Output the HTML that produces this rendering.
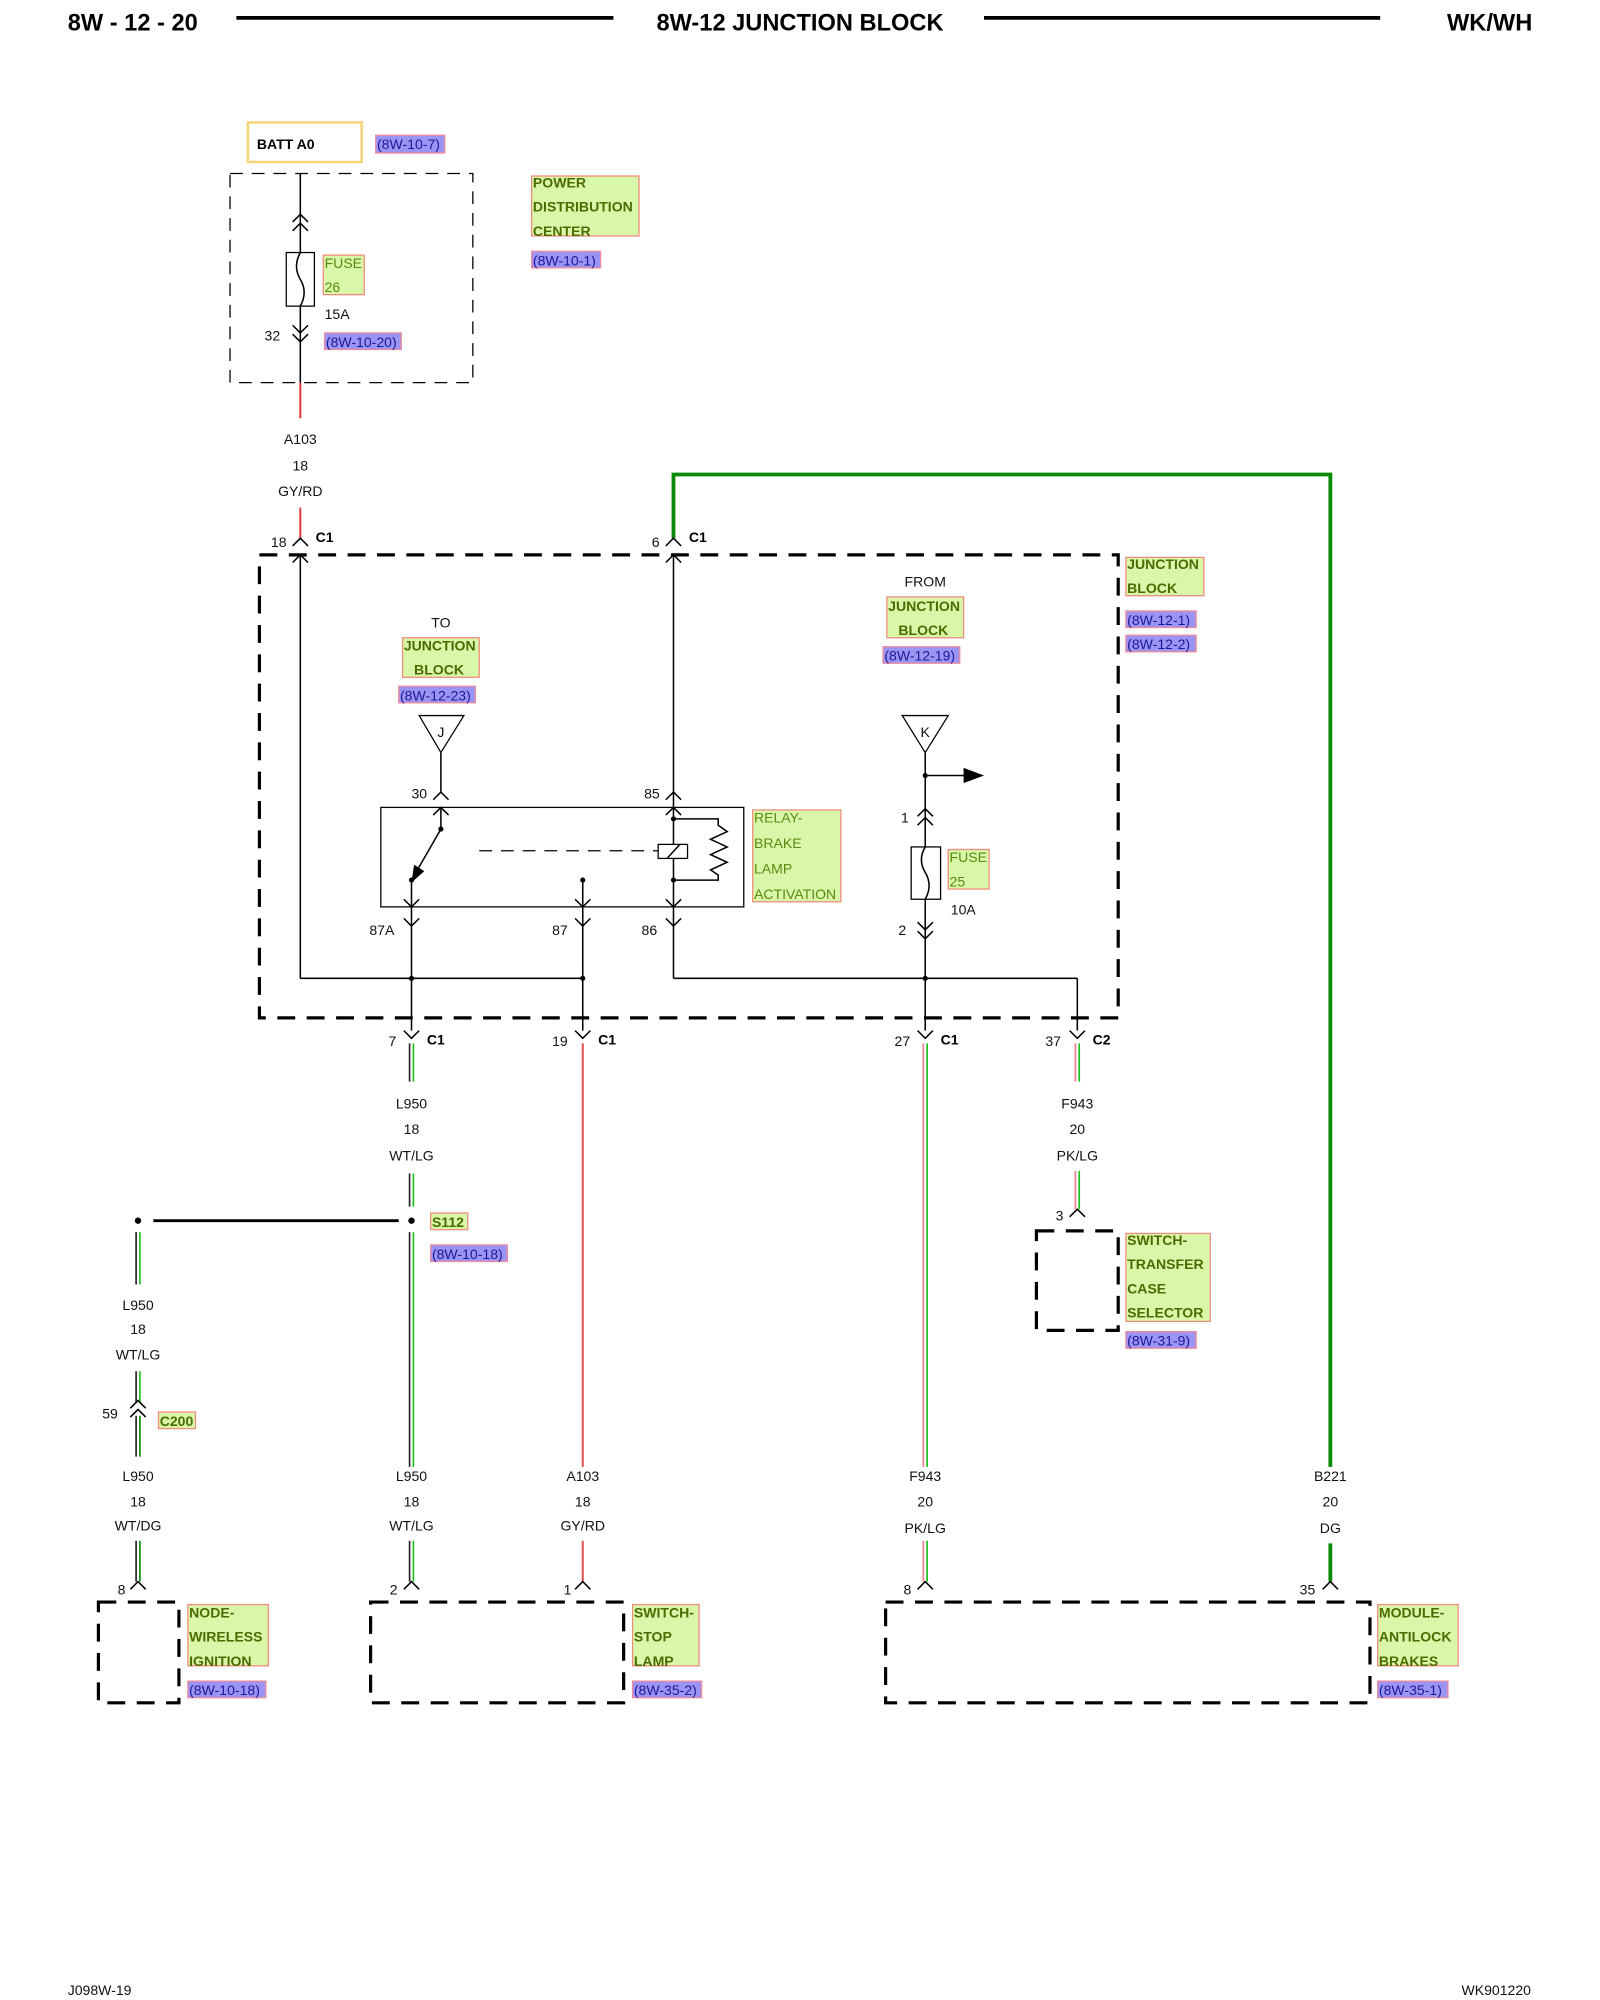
<!DOCTYPE html>
<html><head><meta charset="utf-8">
<style>
html,body{margin:0;padding:0;background:#fff;}
svg{display:block;}
text{font-family:"Liberation Sans",Arial,sans-serif;}
.t{font-size:11px;fill:#111;}
.g{font-size:11px;fill:#4d6b00;font-weight:bold;}
.gl{font-size:11px;fill:#5a8a10;}
.p{font-size:11px;fill:#1a1a9a;}
.gb{fill:#d8f7a8;stroke:#f08c7c;stroke-width:1;}
.pb{fill:#9b94f2;stroke:#f08c9c;stroke-width:1;}
.w{stroke:#000;stroke-width:1.2;fill:none;}
.d{stroke:#000;stroke-width:1;fill:none;stroke-dasharray:10,7;}
.D{stroke:#000;stroke-width:2.5;fill:none;stroke-dasharray:14,9;}
</style></head>
<body>
<svg width="1600" height="2000" viewBox="0 0 1252 1568" preserveAspectRatio="none" xmlns="http://www.w3.org/2000/svg">
<text x="53" y="24" font-size="18.5" font-weight="bold">8W - 12 - 20</text>
<line x1="185" y1="14" x2="480" y2="14" stroke="#000" stroke-width="3"/>
<text x="626" y="24" font-size="18.5" font-weight="bold" text-anchor="middle">8W-12 JUNCTION BLOCK</text>
<line x1="770" y1="14" x2="1080" y2="14" stroke="#000" stroke-width="3"/>
<text x="1199" y="24" font-size="18.5" font-weight="bold" text-anchor="end">WK/WH</text>

<rect x="194" y="96" width="89" height="31" fill="#fff" stroke="#f5d57a" stroke-width="2"/>
<text x="201" y="117" font-size="11" font-weight="bold">BATT A0</text>
<rect class="pb" x="294" y="106" width="54" height="14"/><text class="p" x="295" y="117">(8W-10-7)</text>

<rect class="d" x="180" y="136" width="190" height="164"/>
<line class="w" x1="235" y1="136" x2="235" y2="300"/>
<polyline class="w" points="229,174 235,168 241,174"/><polyline class="w" points="229,181 235,175 241,181"/>
<rect x="224" y="198" width="22" height="42" fill="#fff" stroke="#000" stroke-width="1"/>
<path d="M235,198 Q229,209 235,219 Q241,229 235,240" class="w"/>
<polyline class="w" points="229,255 235,261 241,255"/><polyline class="w" points="229,262 235,268 241,262"/>
<rect class="gb" x="253" y="200" width="32" height="31"/><text class="gl" x="254" y="210">FUSE</text><text class="gl" x="254" y="229">26</text>
<text class="t" x="254" y="250">15A</text>
<text class="t" x="207" y="267">32</text>
<rect class="pb" x="254" y="261" width="60" height="13"/><text class="p" x="255" y="272">(8W-10-20)</text>
<line x1="235" y1="300" x2="235" y2="328" stroke="#e03030" stroke-width="1.5"/>
<rect class="gb" x="416" y="138" width="84" height="47"/>
<text class="g" x="417" y="147">POWER</text><text class="g" x="417" y="166">DISTRIBUTION</text><text class="g" x="417" y="185">CENTER</text>
<rect class="pb" x="416" y="197" width="54" height="13"/><text class="p" x="417" y="208">(8W-10-1)</text>

<text class="t" x="235" y="348" text-anchor="middle">A103</text>
<text class="t" x="235" y="369" text-anchor="middle">18</text>
<text class="t" x="235" y="389" text-anchor="middle">GY/RD</text>
<line x1="235" y1="398" x2="235" y2="422" stroke="#e03030" stroke-width="1.5"/>
<polyline class="w" points="229,428 235,422 241,428"/>
<text class="t" x="212" y="429">18</text><text x="247" y="425" font-size="11" font-weight="bold">C1</text>

<polyline points="527,422 527,372 1041,372 1041,1150" fill="none" stroke="#0a8a0a" stroke-width="3"/>
<line x1="1041" y1="1210" x2="1041" y2="1240" stroke="#0a8a0a" stroke-width="3"/>
<polyline class="w" points="521,428 527,422 533,428"/>
<text class="t" x="510" y="429">6</text><text x="539" y="425" font-size="11" font-weight="bold">C1</text>

<rect class="D" x="203" y="435" width="672" height="363"/>
<rect class="gb" x="881" y="437" width="61" height="30"/><text class="g" x="882" y="446">JUNCTION</text><text class="g" x="882" y="465">BLOCK</text>
<rect class="pb" x="881" y="479" width="55" height="13"/><text class="p" x="882" y="490">(8W-12-1)</text>
<rect class="pb" x="881" y="498" width="55" height="13"/><text class="p" x="882" y="509">(8W-12-2)</text>

<line class="w" x1="235" y1="435" x2="235" y2="767"/>
<polyline class="w" points="229,441 235,435 241,441"/>
<line class="w" x1="235" y1="767" x2="456" y2="767"/>
<line class="w" x1="527" y1="767" x2="843" y2="767"/>
<line class="w" x1="527" y1="435" x2="527" y2="633"/>
<polyline class="w" points="521,441 527,435 533,441"/>

<text class="t" x="345" y="492" text-anchor="middle">TO</text>
<rect class="gb" x="315" y="500" width="60" height="31"/><text class="g" x="316" y="510">JUNCTION</text><text class="g" x="324" y="529">BLOCK</text>
<rect class="pb" x="312" y="538" width="60" height="13"/><text class="p" x="313" y="549">(8W-12-23)</text>
<polygon points="328,561 363,561 345,590" fill="#fff" stroke="#000" stroke-width="1"/>
<text class="t" x="345" y="578" text-anchor="middle">J</text>
<line class="w" x1="345" y1="590" x2="345" y2="621"/>
<polyline class="w" points="339,627 345,621 351,627"/>
<text class="t" x="322" y="626">30</text>
<polyline class="w" points="521,627 527,621 533,627"/>
<text class="t" x="504" y="626">85</text>

<text class="t" x="724" y="460" text-anchor="middle">FROM</text>
<rect class="gb" x="694" y="468" width="60" height="32"/><text class="g" x="695" y="479">JUNCTION</text><text class="g" x="703" y="498">BLOCK</text>
<rect class="pb" x="691" y="507" width="60" height="13"/><text class="p" x="692" y="518">(8W-12-19)</text>
<polygon points="706,561 742,561 724,590" fill="#fff" stroke="#000" stroke-width="1"/>
<text class="t" x="724" y="578" text-anchor="middle">K</text>
<line class="w" x1="724" y1="590" x2="724" y2="767"/>
<circle cx="724" cy="608" r="2"/>
<line class="w" x1="724" y1="608" x2="755" y2="608"/>
<polygon points="754,602 770,608 754,614"/>
<polyline class="w" points="718,640 724,634 730,640"/><polyline class="w" points="718,647 724,641 730,647"/>
<text class="t" x="705" y="645">1</text>
<rect x="713" y="664" width="23" height="41" fill="#fff" stroke="#000" stroke-width="1"/>
<path d="M724,664 Q718,674 724,684 Q730,694 724,705" class="w"/>
<rect class="gb" x="742" y="666" width="32" height="31"/><text class="gl" x="743" y="676">FUSE</text><text class="gl" x="743" y="695">25</text>
<text class="t" x="744" y="717">10A</text>
<polyline class="w" points="718,723 724,729 730,723"/><polyline class="w" points="718,730 724,736 730,730"/>
<text class="t" x="703" y="733">2</text>

<rect x="298" y="633" width="284" height="78" fill="none" stroke="#000" stroke-width="1"/>
<rect class="gb" x="589" y="635" width="69" height="72"/>
<text class="gl" x="590" y="645">RELAY-</text><text class="gl" x="590" y="665">BRAKE</text><text class="gl" x="590" y="685">LAMP</text><text class="gl" x="590" y="705">ACTIVATION</text>
<line class="w" x1="345" y1="633" x2="345" y2="650"/>
<polyline class="w" points="339,639 345,633 351,639"/>
<circle cx="345" cy="650" r="2"/>
<line class="w" x1="345" y1="650" x2="322" y2="690"/>
<polygon points="324,678 332,683 322,692"/>
<circle cx="322" cy="690" r="2"/>
<line class="w" x1="322" y1="690" x2="322" y2="808"/>
<polyline class="w" points="316,705 322,711 328,705"/>
<line class="d" x1="375" y1="667" x2="515" y2="667"/>
<rect x="515" y="662" width="23" height="11" fill="#fff" stroke="#000" stroke-width="1"/>
<line class="w" x1="522" y1="673" x2="532" y2="662"/>
<line class="w" x1="527" y1="633" x2="527" y2="662"/><line class="w" x1="527" y1="673" x2="527" y2="767"/>
<polyline class="w" points="521,639 527,633 533,639"/>
<polyline class="w" points="521,705 527,711 533,705"/>
<circle cx="527" cy="642" r="2"/><circle cx="527" cy="690" r="2"/>
<polyline class="w" points="527,642 562,642 562,647 569,652 556,658 569,664 556,670 569,676 556,682 562,686 562,690 527,690"/>
<circle cx="456" cy="690" r="2"/>
<line class="w" x1="456" y1="690" x2="456" y2="808"/>
<polyline class="w" points="450,705 456,711 462,705"/>
<polyline class="w" points="316,720 322,726 328,720"/><text class="t" x="289" y="733">87A</text>
<polyline class="w" points="450,720 456,726 462,720"/><text class="t" x="432" y="733">87</text>
<polyline class="w" points="521,720 527,726 533,720"/><text class="t" x="502" y="733">86</text>
<circle cx="322" cy="767" r="2"/><circle cx="456" cy="767" r="2"/><circle cx="724" cy="767" r="2"/>
<line class="w" x1="843" y1="767" x2="843" y2="808"/>
<line class="w" x1="724" y1="767" x2="724" y2="808"/>

<polyline class="w" points="316,808 322,814 328,808"/><text class="t" x="304" y="820">7</text><text x="334" y="819" font-size="11" font-weight="bold">C1</text>
<polyline class="w" points="450,808 456,814 462,808"/><text class="t" x="432" y="820">19</text><text x="468" y="819" font-size="11" font-weight="bold">C1</text>
<polyline class="w" points="718,808 724,814 730,808"/><text class="t" x="700" y="820">27</text><text x="736" y="819" font-size="11" font-weight="bold">C1</text>
<polyline class="w" points="837,808 843,814 849,808"/><text class="t" x="818" y="820">37</text><text x="855" y="819" font-size="11" font-weight="bold">C2</text>

<g stroke-width="1.3">
<line x1="320.5" y1="818" x2="320.5" y2="848" stroke="#222"/><line x1="323.5" y1="818" x2="323.5" y2="848" stroke="#1ec01e"/>
<line x1="320.5" y1="920" x2="320.5" y2="946" stroke="#222"/><line x1="323.5" y1="920" x2="323.5" y2="946" stroke="#1ec01e"/>
<line x1="320.5" y1="966" x2="320.5" y2="1150" stroke="#222"/><line x1="323.5" y1="966" x2="323.5" y2="1150" stroke="#1ec01e"/>
<line x1="320.5" y1="1208" x2="320.5" y2="1240" stroke="#222"/><line x1="323.5" y1="1208" x2="323.5" y2="1240" stroke="#1ec01e"/>
<line x1="106.5" y1="966" x2="106.5" y2="1007" stroke="#222"/><line x1="109.5" y1="966" x2="109.5" y2="1007" stroke="#1ec01e"/>
<line x1="106.5" y1="1075" x2="106.5" y2="1100" stroke="#222"/><line x1="109.5" y1="1075" x2="109.5" y2="1100" stroke="#1ec01e"/>
<line x1="106.5" y1="1110" x2="106.5" y2="1142" stroke="#222"/><line x1="109.5" y1="1110" x2="109.5" y2="1142" stroke="#0a8a0a"/>
<line x1="106.5" y1="1208" x2="106.5" y2="1240" stroke="#222"/><line x1="109.5" y1="1208" x2="109.5" y2="1240" stroke="#0a8a0a"/>
<line x1="722.5" y1="818" x2="722.5" y2="1150" stroke="#f07c8c"/><line x1="725.5" y1="818" x2="725.5" y2="1150" stroke="#1ec01e"/>
<line x1="722.5" y1="1208" x2="722.5" y2="1240" stroke="#f07c8c"/><line x1="725.5" y1="1208" x2="725.5" y2="1240" stroke="#1ec01e"/>
<line x1="841.5" y1="818" x2="841.5" y2="848" stroke="#f07c8c"/><line x1="844.5" y1="818" x2="844.5" y2="848" stroke="#1ec01e"/>
<line x1="841.5" y1="918" x2="841.5" y2="948" stroke="#f07c8c"/><line x1="844.5" y1="918" x2="844.5" y2="948" stroke="#1ec01e"/>
</g>
<line x1="456" y1="818" x2="456" y2="1150" stroke="#e05050" stroke-width="1.6"/>
<line x1="456" y1="1208" x2="456" y2="1240" stroke="#e05050" stroke-width="1.6"/>

<text class="t" x="322" y="869" text-anchor="middle">L950</text>
<text class="t" x="322" y="889" text-anchor="middle">18</text>
<text class="t" x="322" y="910" text-anchor="middle">WT/LG</text>
<text class="t" x="843" y="869" text-anchor="middle">F943</text>
<text class="t" x="843" y="889" text-anchor="middle">20</text>
<text class="t" x="843" y="910" text-anchor="middle">PK/LG</text>

<line x1="120" y1="957" x2="312" y2="957" stroke="#000" stroke-width="2.2"/>
<circle cx="108" cy="957" r="2.5"/><circle cx="322" cy="957" r="2.5"/>
<rect class="gb" x="337" y="951" width="29" height="13"/><text class="g" x="338" y="962">S112</text>
<rect class="pb" x="337" y="976" width="60" height="13"/><text class="p" x="338" y="987">(8W-10-18)</text>

<text class="t" x="108" y="1027" text-anchor="middle">L950</text>
<text class="t" x="108" y="1046" text-anchor="middle">18</text>
<text class="t" x="108" y="1066" text-anchor="middle">WT/LG</text>
<polyline class="w" points="102,1104 108,1098 114,1104"/><polyline class="w" points="102,1111 108,1105 114,1111"/>
<text class="t" x="80" y="1112">59</text>
<rect class="gb" x="124" y="1107" width="29" height="13"/><text class="g" x="125" y="1118">C200</text>

<polyline class="w" points="837,954 843,948 849,954"/><text class="t" x="826" y="957">3</text>
<rect class="D" x="811" y="965" width="64" height="78" stroke-width="2"/>
<rect class="gb" x="881" y="967" width="66" height="69"/>
<text class="g" x="882" y="976">SWITCH-</text><text class="g" x="882" y="995">TRANSFER</text><text class="g" x="882" y="1014">CASE</text><text class="g" x="882" y="1033">SELECTOR</text>
<rect class="pb" x="881" y="1044" width="55" height="13"/><text class="p" x="882" y="1055">(8W-31-9)</text>

<text class="t" x="108" y="1161" text-anchor="middle">L950</text><text class="t" x="108" y="1181" text-anchor="middle">18</text><text class="t" x="108" y="1200" text-anchor="middle">WT/DG</text>
<text class="t" x="322" y="1161" text-anchor="middle">L950</text><text class="t" x="322" y="1181" text-anchor="middle">18</text><text class="t" x="322" y="1200" text-anchor="middle">WT/LG</text>
<text class="t" x="456" y="1161" text-anchor="middle">A103</text><text class="t" x="456" y="1181" text-anchor="middle">18</text><text class="t" x="456" y="1200" text-anchor="middle">GY/RD</text>
<text class="t" x="724" y="1161" text-anchor="middle">F943</text><text class="t" x="724" y="1181" text-anchor="middle">20</text><text class="t" x="724" y="1202" text-anchor="middle">PK/LG</text>
<text class="t" x="1041" y="1161" text-anchor="middle">B221</text><text class="t" x="1041" y="1181" text-anchor="middle">20</text><text class="t" x="1041" y="1202" text-anchor="middle">DG</text>

<polyline class="w" points="102,1246 108,1240 114,1246"/><text class="t" x="92" y="1250">8</text>
<polyline class="w" points="316,1246 322,1240 328,1246"/><text class="t" x="305" y="1250">2</text>
<polyline class="w" points="450,1246 456,1240 462,1246"/><text class="t" x="441" y="1250">1</text>
<polyline class="w" points="718,1246 724,1240 730,1246"/><text class="t" x="707" y="1250">8</text>
<polyline class="w" points="1035,1246 1041,1240 1047,1246"/><text class="t" x="1017" y="1250">35</text>

<rect class="D" x="77" y="1256" width="63" height="79" stroke-width="2"/>
<rect class="gb" x="147" y="1258" width="63" height="48"/>
<text class="g" x="148" y="1268">NODE-</text><text class="g" x="148" y="1287">WIRELESS</text><text class="g" x="148" y="1306">IGNITION</text>
<rect class="pb" x="147" y="1318" width="61" height="13"/><text class="p" x="148" y="1329">(8W-10-18)</text>

<rect class="D" x="290" y="1256" width="198" height="79" stroke-width="2"/>
<rect class="gb" x="495" y="1258" width="52" height="48"/>
<text class="g" x="496" y="1268">SWITCH-</text><text class="g" x="496" y="1287">STOP</text><text class="g" x="496" y="1306">LAMP</text>
<rect class="pb" x="495" y="1318" width="54" height="13"/><text class="p" x="496" y="1329">(8W-35-2)</text>

<rect class="D" x="693" y="1256" width="379" height="79" stroke-width="2"/>
<rect class="gb" x="1078" y="1258" width="63" height="48"/>
<text class="g" x="1079" y="1268">MODULE-</text><text class="g" x="1079" y="1287">ANTILOCK</text><text class="g" x="1079" y="1306">BRAKES</text>
<rect class="pb" x="1078" y="1318" width="55" height="13"/><text class="p" x="1079" y="1329">(8W-35-1)</text>

<text class="t" x="53" y="1564">J098W-19</text>
<text class="t" x="1198" y="1564" text-anchor="end">WK901220</text>
</svg>
</body></html>
